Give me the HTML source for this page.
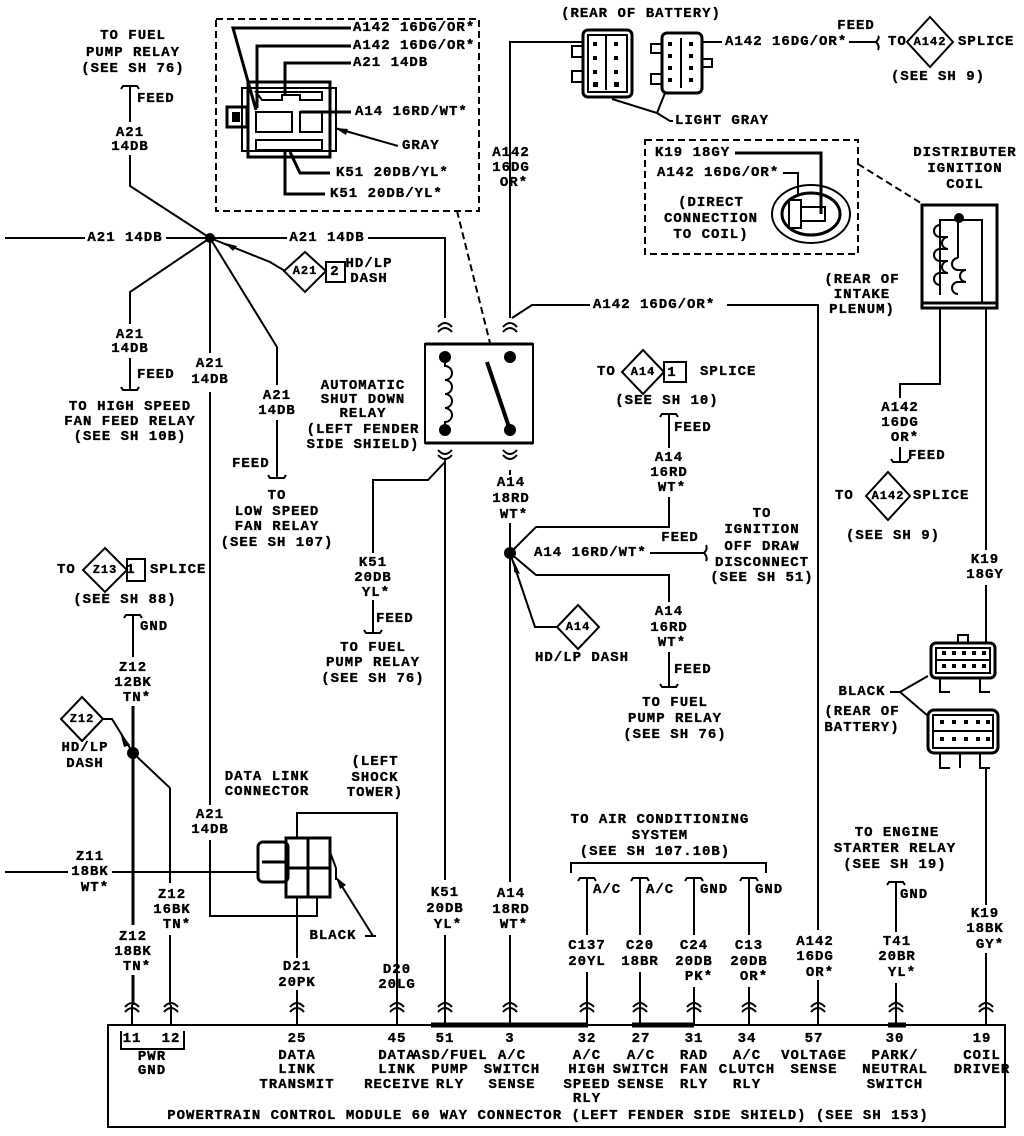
<!DOCTYPE html>
<html><head><meta charset="utf-8"><style>
html,body{margin:0;padding:0;background:#fff;}
svg{display:block;}
text{font-family:"Liberation Mono",monospace;font-weight:bold;font-size:14px;letter-spacing:1px;fill:#000;stroke:#000;stroke-width:0.35px;dominant-baseline:central;}
.c text{text-anchor:middle;}
.l text{text-anchor:start;}
.w{stroke:#000;stroke-width:2;fill:none;}
.t{stroke:#000;stroke-width:3;fill:none;}
.d{stroke:#000;stroke-width:2;fill:none;stroke-dasharray:7,4;}
</style></head><body>
<svg width="1024" height="1136" viewBox="0 0 1024 1136" xmlns="http://www.w3.org/2000/svg">
<defs>
<g id="cap"><path d="M-7,3 Q0,-5 7,3 M-7,8 Q0,0 7,8" stroke="#000" stroke-width="2" fill="none"/></g>
<g id="feed"><path d="M-9,3 L-7,0 L7,0 L9,3" stroke="#000" stroke-width="2" fill="none"/></g>
</defs>

<g class="c">
<text x="133" y="36">TO FUEL</text><text x="133" y="53">PUMP RELAY</text><text x="133" y="69">(SEE SH 76)</text>
<text x="130" y="133">A21</text><text x="130" y="147">14DB</text>
<text x="125" y="238">A21 14DB</text><text x="327" y="238">A21 14DB</text>
<text x="130" y="335">A21</text><text x="130" y="349">14DB</text>
<text x="130" y="407">TO HIGH SPEED</text><text x="130" y="422">FAN FEED RELAY</text><text x="130" y="437">(SEE SH 10B)</text>
<text x="210" y="364">A21</text><text x="210" y="380">14DB</text>
<text x="277" y="396">A21</text><text x="277" y="411">14DB</text>
<text x="277" y="496">TO</text><text x="277" y="512">LOW SPEED</text><text x="277" y="527">FAN RELAY</text><text x="277" y="543">(SEE SH 107)</text>
<text x="369" y="264">HD/LP</text><text x="369" y="279">DASH</text>
<text x="305" y="271" style="font-size:12px">A21</text>
<text x="335" y="272">2</text>
<text x="363" y="386">AUTOMATIC</text><text x="363" y="400">SHUT DOWN</text><text x="363" y="414">RELAY</text><text x="363" y="430">(LEFT FENDER</text><text x="363" y="445">SIDE SHIELD)</text>
</g>
<g class="l"><text x="137" y="99">FEED</text><text x="137" y="375">FEED</text><text x="232" y="464">FEED</text></g>
<use href="#feed" x="130" y="86"/><use href="#feed" x="130" y="390" transform="rotate(180 130 390)"/><use href="#feed" x="277" y="478" transform="rotate(180 277 478)"/>
<path class="w" d="M130,86 V122 M130,155 V186 L210,238 M5,238 H85 M166,238 H287 M368,238 H445 V318"/>
<path class="w" d="M210,238 L130,292 V324 M130,358 V390 M210,238 V353 M210,392 V805 M210,840 V916 H317 V897 M210,238 L277,347 V385 M277,420 V478"/>
<path class="w" d="M210,238 L270,262 L285,271"/>
<polygon points="225,243 237,246 233,251" fill="#000"/>
<circle cx="210" cy="238" r="5" fill="#000"/>
<polygon class="w" points="305,252 326,271 305,292 284,271"/>
<rect class="w" x="326" y="262" width="19" height="20"/>

<rect class="d" x="216" y="19" width="263" height="192"/>
<path class="d" d="M457,211 L490,343"/>
<g class="l"><text x="353" y="28">A142 16DG/OR*</text><text x="353" y="46">A142 16DG/OR*</text><text x="353" y="63">A21 14DB</text><text x="355" y="112">A14 16RD/WT*</text><text x="402" y="146">GRAY</text><text x="336" y="173">K51 20DB/YL*</text><text x="330" y="194">K51 20DB/YL*</text></g>
<path class="t" d="M351,28 H233 L256,110 M351,46 H257 V108 M351,63 H285 V95 M351,112 H300 M330,173 H300 L290,152 M325,194 H285 V150"/>
<path class="w" d="M335,128 L398,146"/><polygon points="335,128 348,129 346,135" fill="#000"/>
<rect class="t" x="248" y="82" width="82" height="75"/>
<rect class="w" x="242" y="88" width="94" height="63"/>
<rect class="t" x="227" y="107" width="20" height="20"/><rect x="232" y="112" width="8" height="10" fill="#000"/>
<path class="w" d="M256,92 H322 V100 H300 V95 H282 V100 H262 Z M256,112 H292 V132 H256 Z M300,112 H322 V132 H300 Z M256,140 H322 V150 H256 Z"/>

<rect class="w" x="425" y="344" width="108" height="99"/>
<path class="t" d="M425,344 H533 M425,443 H533"/>
<use href="#cap" x="445" y="324"/><use href="#cap" x="510" y="324"/>
<use href="#cap" x="445" y="452" transform="rotate(180 445 455)"/><use href="#cap" x="510" y="452" transform="rotate(180 510 455)"/>
<circle cx="445" cy="357" r="6" fill="#000"/><circle cx="510" cy="357" r="6" fill="#000"/>
<circle cx="445" cy="430" r="6" fill="#000"/><circle cx="510" cy="430" r="6" fill="#000"/>
<path class="w" d="M445,357 V366 a7,7 0 0 1 0,14 a7,7 0 0 1 0,14 a7,7 0 0 1 0,14 a7,7 0 0 1 0,14 V430"/>
<path d="M510,430 L487,362" stroke="#000" stroke-width="4"/>
<path class="w" d="M510,318 V160 M510,190 V42 H584 M512,318 L532,305 H590 M727,305 H818 V930 M818,980 V1005"/>
<g class="c"><text x="511" y="153">A142</text><text x="511" y="168">16DG</text><text x="514" y="183">OR*</text></g>
<g class="l"><text x="593" y="305">A142 16DG/OR*</text></g>
<path class="w" d="M445,460 V880 M445,935 V1005 M445,462 L428,480 H373 V553 M373,600 V632"/>
<g class="c"><text x="373" y="563">K51</text><text x="373" y="578">20DB</text><text x="376" y="593">YL*</text>
<text x="373" y="648">TO FUEL</text><text x="373" y="663">PUMP RELAY</text><text x="373" y="679">(SEE SH 76)</text>
<text x="445" y="893">K51</text><text x="445" y="909">20DB</text><text x="448" y="925">YL*</text></g>
<g class="l"><text x="376" y="619">FEED</text></g>
<use href="#feed" x="373" y="633" transform="rotate(180 373 633)"/>

<text x="641" y="14" style="text-anchor:middle">(REAR OF BATTERY)</text>
<rect class="t" x="583" y="30" width="49" height="67" rx="5"/>
<rect class="w" x="588" y="35" width="39" height="57"/>
<path class="w" d="M583,46 H572 V57 H583 M583,71 H572 V82 H583 M606,36 V90"/>
<rect class="t" x="662" y="33" width="40" height="60" rx="5"/>
<path class="w" d="M662,44 H651 V53 H662 M662,74 H651 V84 H662 M702,59 H712 V67 H702 M681,38 V88"/>
<g fill="#000"><rect x="593" y="42" width="4" height="4"/><rect x="593" y="56" width="4" height="4"/><rect x="593" y="70" width="4" height="4"/><rect x="593" y="82" width="5" height="5"/><rect x="614" y="42" width="4" height="4"/><rect x="614" y="56" width="4" height="4"/><rect x="614" y="70" width="4" height="4"/><rect x="614" y="82" width="5" height="5"/>
<rect x="668" y="42" width="4" height="4"/><rect x="668" y="54" width="4" height="4"/><rect x="668" y="66" width="4" height="4"/><rect x="668" y="78" width="4" height="4"/><rect x="689" y="42" width="4" height="4"/><rect x="689" y="54" width="4" height="4"/><rect x="689" y="66" width="4" height="4"/><rect x="689" y="78" width="4" height="4"/></g>
<path class="w" d="M702,42 H722 M665,93 L657,113 L612,99 M657,113 L670,121 H673"/>
<g class="l"><text x="725" y="42">A142 16DG/OR*</text><text x="675" y="121">LIGHT GRAY</text><text x="888" y="42">TO</text><text x="958" y="42">SPLICE</text></g>
<path class="w" d="M849,42 H876 M876,42 q4,-4 2,-6 M876,42 q4,4 2,8"/>
<text x="856" y="26" style="text-anchor:middle">FEED</text>
<polygon class="w" points="930,17 953,42 930,67 907,42"/>
<text x="930" y="42" style="text-anchor:middle;font-size:12px">A142</text>
<text x="938" y="77" style="text-anchor:middle">(SEE SH 9)</text>

<rect class="d" x="645" y="140" width="213" height="114"/>
<path class="d" d="M858,164 L924,205"/>
<g class="l"><text x="655" y="153">K19 18GY</text><text x="657" y="173">A142 16DG/OR*</text></g>
<g class="c"><text x="711" y="203">(DIRECT</text><text x="711" y="219">CONNECTION</text><text x="711" y="235">TO COIL)</text></g>
<path class="t" d="M735,153 H821 V214"/><path class="w" d="M783,173 H798 V196"/>
<ellipse class="w" cx="811" cy="214" rx="39" ry="29"/><ellipse class="t" cx="811" cy="214" rx="29" ry="21"/>
<rect class="w" x="789" y="200" width="12" height="28"/><rect class="w" x="801" y="207" width="24" height="14"/>
<g class="c"><text x="965" y="153">DISTRIBUTER</text><text x="965" y="169">IGNITION</text><text x="965" y="185">COIL</text>
<text x="862" y="280">(REAR OF</text><text x="862" y="295">INTAKE</text><text x="862" y="310">PLENUM)</text></g>
<rect class="t" x="922" y="205" width="75" height="103"/><path class="t" d="M922,303 H997"/>
<path class="w" d="M940,295 V220 H982 V303 M958,218 V258"/>
<circle cx="959" cy="218" r="5" fill="#000"/>
<path class="w" d="M940,225 a6,6 0 0 0 0,12 h8 a6,6 0 0 0 0,12 h-8 a6,6 0 0 0 0,12 h8 a6,6 0 0 0 0,12 h-8 a6,6 0 0 0 0,12"/>
<path class="w" d="M958,258 a6,6 0 0 0 0,12 h8 a6,6 0 0 0 0,12 h-8 a6,6 0 0 0 0,12"/>
<path class="w" d="M940,308 V384 H900 V398 M900,447 V462 M986,308 V550 M986,585 V643 M986,768 V905 M986,953 V1005"/>
<g class="c"><text x="900" y="408">A142</text><text x="900" y="423">16DG</text><text x="905" y="438">OR*</text>
<text x="888" y="496" style="font-size:12px">A142</text>
<text x="893" y="536">(SEE SH 9)</text>
<text x="985" y="560">K19</text><text x="985" y="575">18GY</text>
<text x="985" y="914">K19</text><text x="985" y="929">18BK</text><text x="990" y="945">GY*</text>
<text x="862" y="692">BLACK</text><text x="862" y="712">(REAR OF</text><text x="862" y="728">BATTERY)</text></g>
<g class="l"><text x="908" y="456">FEED</text><text x="835" y="496">TO</text><text x="913" y="496">SPLICE</text></g>
<use href="#feed" x="900" y="462" transform="rotate(180 900 462)"/>
<polygon class="w" points="888,472 910,496 888,520 866,496"/>
<rect class="t" x="931" y="643" width="64" height="35" rx="5"/><rect class="w" x="936" y="648" width="54" height="25"/>
<path class="w" d="M936,660 H990 M958,643 V635 H968 V643 M940,678 V692 H950 M980,678 V692 H990"/>
<rect class="t" x="928" y="710" width="70" height="43" rx="6"/><rect class="w" x="933" y="715" width="60" height="33"/>
<path class="w" d="M933,731 H993 M940,753 V768 H950 M960,753 V768 M980,753 V768 H990"/>
<g fill="#000"><rect x="942" y="651" width="4" height="4"/><rect x="952" y="651" width="4" height="4"/><rect x="962" y="651" width="4" height="4"/><rect x="972" y="651" width="4" height="4"/><rect x="982" y="651" width="4" height="4"/><rect x="942" y="664" width="4" height="4"/><rect x="952" y="664" width="4" height="4"/><rect x="962" y="664" width="4" height="4"/><rect x="972" y="664" width="4" height="4"/><rect x="982" y="664" width="4" height="4"/>
<rect x="940" y="720" width="4" height="4"/><rect x="952" y="720" width="4" height="4"/><rect x="964" y="720" width="4" height="4"/><rect x="976" y="720" width="4" height="4"/><rect x="986" y="720" width="4" height="4"/><rect x="940" y="737" width="4" height="4"/><rect x="952" y="737" width="4" height="4"/><rect x="964" y="737" width="4" height="4"/><rect x="976" y="737" width="4" height="4"/><rect x="986" y="737" width="4" height="4"/></g>
<path class="w" d="M890,692 H900 L928,676 M900,692 L928,716"/>

<g class="c"><text x="511" y="483">A14</text><text x="511" y="499">18RD</text><text x="514" y="515">WT*</text>
<text x="643" y="372" style="font-size:12px">A14</text><text x="672" y="373">1</text>
<text x="667" y="401">(SEE SH 10)</text>
<text x="669" y="458">A14</text><text x="669" y="473">16RD</text><text x="672" y="488">WT*</text>
<text x="762" y="514">TO</text><text x="762" y="530">IGNITION</text><text x="762" y="547">OFF DRAW</text><text x="762" y="563">DISCONNECT</text><text x="762" y="578">(SEE SH 51)</text>
<text x="680" y="538">FEED</text>
<text x="578" y="627" style="font-size:12px">A14</text>
<text x="582" y="658">HD/LP DASH</text>
<text x="669" y="612">A14</text><text x="669" y="628">16RD</text><text x="672" y="643">WT*</text>
<text x="675" y="703">TO FUEL</text><text x="675" y="719">PUMP RELAY</text><text x="675" y="735">(SEE SH 76)</text>
<text x="511" y="894">A14</text><text x="511" y="910">18RD</text><text x="514" y="925">WT*</text></g>
<g class="l"><text x="597" y="372">TO</text><text x="700" y="372">SPLICE</text><text x="674" y="428">FEED</text><text x="534" y="553">A14 16RD/WT*</text><text x="674" y="670">FEED</text></g>
<polygon class="w" points="643,350 664,372 643,394 622,372"/><rect class="w" x="664" y="362" width="22" height="20"/>
<use href="#feed" x="669" y="414"/>
<path class="w" d="M669,414 V448 M669,497 V527 H536 L510,553 M510,470 V475 M510,523 V882 M510,935 V1005 M510,553 L536,575 H669 V602 M669,652 V687 M510,553 L535,627 L557,627 M650,553 H704 M704,553 q4,-4 2,-8 M704,553 q4,4 2,8"/>
<use href="#feed" x="669" y="687" transform="rotate(180 669 687)"/>
<circle cx="510" cy="553" r="6" fill="#000"/>
<polygon class="w" points="578,605 599,627 578,649 557,627"/>
<polygon points="514,561 520,574 514,572" fill="#000"/>

<g class="c"><text x="660" y="820">TO AIR CONDITIONING</text><text x="660" y="836">SYSTEM</text><text x="655" y="852">(SEE SH 107.10B)</text>
<text x="587" y="946">C137</text><text x="587" y="962">20YL</text>
<text x="640" y="946">C20</text><text x="640" y="962">18BR</text>
<text x="694" y="946">C24</text><text x="694" y="962">20DB</text><text x="699" y="977">PK*</text>
<text x="749" y="946">C13</text><text x="749" y="962">20DB</text><text x="754" y="977">OR*</text>
<text x="815" y="942">A142</text><text x="815" y="957">16DG</text><text x="820" y="973">OR*</text>
<text x="897" y="833">TO ENGINE</text><text x="895" y="849">STARTER RELAY</text><text x="895" y="865">(SEE SH 19)</text>
<text x="897" y="942">T41</text><text x="897" y="957">20BR</text><text x="902" y="973">YL*</text></g>
<g class="l"><text x="593" y="890">A/C</text><text x="646" y="890">A/C</text><text x="700" y="890">GND</text><text x="755" y="890">GND</text><text x="900" y="895">GND</text></g>
<path class="w" d="M571,873 V863 H766 V873"/>
<use href="#feed" x="587" y="878"/><use href="#feed" x="640" y="878"/><use href="#feed" x="694" y="878"/><use href="#feed" x="749" y="878"/><use href="#feed" x="896" y="882"/>
<path class="w" d="M587,878 V935 M587,972 V1005 M640,878 V935 M640,972 V1005 M694,878 V935 M694,987 V1005 M749,878 V935 M749,987 V1005 M896,882 V932 M896,983 V1005"/>

<g class="c"><text x="105" y="570" style="font-size:12px">Z13</text><text x="131" y="570">1</text>
<text x="125" y="600">(SEE SH 88)</text>
<text x="133" y="668">Z12</text><text x="133" y="683">12BK</text><text x="137" y="698">TN*</text>
<text x="82" y="719" style="font-size:12px">Z12</text>
<text x="85" y="748">HD/LP</text><text x="85" y="764">DASH</text>
<text x="90" y="857">Z11</text><text x="90" y="872">18BK</text><text x="95" y="888">WT*</text>
<text x="172" y="895">Z12</text><text x="172" y="910">16BK</text><text x="177" y="925">TN*</text>
<text x="133" y="937">Z12</text><text x="133" y="952">18BK</text><text x="137" y="967">TN*</text>
<text x="267" y="777">DATA LINK</text><text x="267" y="792">CONNECTOR</text>
<text x="375" y="762">(LEFT</text><text x="375" y="778">SHOCK</text><text x="375" y="793">TOWER)</text>
<text x="210" y="815">A21</text><text x="210" y="830">14DB</text>
<text x="297" y="967">D21</text><text x="297" y="983">20PK</text>
<text x="397" y="970">D20</text><text x="397" y="985">20LG</text>
<text x="333" y="936">BLACK</text></g>
<g class="l"><text x="57" y="570">TO</text><text x="150" y="570">SPLICE</text><text x="140" y="627">GND</text></g>
<polygon class="w" points="105,548 127,570 105,592 83,570"/><rect class="w" x="127" y="559" width="18" height="22"/>
<use href="#feed" x="133" y="615"/>
<polygon class="w" points="82,697 103,719 82,741 61,719"/>
<path class="w" d="M133,615 V657 M170,788 V883 M170,935 V1005 M103,719 H112 L133,753 L170,788 M5,872 H68 M112,872 H258"/>
<path class="t" d="M133,706 V925 M133,975 V1005"/>
<polygon points="120,732 130,745 124,747" fill="#000"/>
<circle cx="133" cy="753" r="6" fill="#000"/>
<rect class="t" x="286" y="838" width="44" height="59"/>
<rect class="t" x="258" y="842" width="30" height="40" rx="5"/>
<path class="t" d="M262,862 H286 M308,838 V897 M286,868 H330"/>
<path class="w" d="M297,838 V813 H397 V1005 M297,897 V958 M297,990 V1005 M330,852 L336,868 V880"/>
<path class="w" d="M373,936 L338,880"/><polygon points="336,877 346,885 340,889" fill="#000"/>
<path class="w" d="M365,936 H376"/>

<g><use href="#cap" x="132" y="1004"/><use href="#cap" x="171" y="1004"/><use href="#cap" x="297" y="1004"/><use href="#cap" x="397" y="1004"/><use href="#cap" x="445" y="1004"/><use href="#cap" x="510" y="1004"/><use href="#cap" x="587" y="1004"/><use href="#cap" x="640" y="1004"/><use href="#cap" x="694" y="1004"/><use href="#cap" x="749" y="1004"/><use href="#cap" x="818" y="1004"/><use href="#cap" x="896" y="1004"/><use href="#cap" x="986" y="1004"/></g>
<path class="w" d="M132,1005 V1025 M171,1005 V1025 M297,1005 V1025 M397,1005 V1025 M445,1005 V1025 M510,1005 V1025 M587,1005 V1025 M640,1005 V1025 M694,1005 V1025 M749,1005 V1025 M818,1005 V1025 M896,1005 V1025 M986,1005 V1025"/>
<rect class="w" x="108" y="1025" width="897" height="102"/>
<path d="M431,1025 H588 M632,1025 H694 M888,1025 H906" stroke="#000" stroke-width="5"/>
<path class="w" d="M121,1031 V1049 H184 V1031"/>
<g class="c">
<text x="132" y="1039">11</text><text x="171" y="1039">12</text><text x="152" y="1057">PWR</text><text x="152" y="1071">GND</text>
<text x="297" y="1039">25</text><text x="297" y="1056">DATA</text><text x="297" y="1070">LINK</text><text x="297" y="1085">TRANSMIT</text>
<text x="397" y="1039">45</text><text x="397" y="1056">DATA</text><text x="397" y="1070">LINK</text><text x="397" y="1085">RECEIVE</text>
<text x="445" y="1039">51</text><text x="450" y="1056">ASD/FUEL</text><text x="450" y="1070">PUMP</text><text x="450" y="1085">RLY</text>
<text x="510" y="1039">3</text><text x="512" y="1056">A/C</text><text x="512" y="1070">SWITCH</text><text x="512" y="1085">SENSE</text>
<text x="587" y="1039">32</text><text x="587" y="1056">A/C</text><text x="587" y="1070">HIGH</text><text x="587" y="1085">SPEED</text><text x="587" y="1099">RLY</text>
<text x="641" y="1039">27</text><text x="641" y="1056">A/C</text><text x="641" y="1070">SWITCH</text><text x="641" y="1085">SENSE</text>
<text x="694" y="1039">31</text><text x="694" y="1056">RAD</text><text x="694" y="1070">FAN</text><text x="694" y="1085">RLY</text>
<text x="747" y="1039">34</text><text x="747" y="1056">A/C</text><text x="747" y="1070">CLUTCH</text><text x="747" y="1085">RLY</text>
<text x="814" y="1039">57</text><text x="814" y="1056">VOLTAGE</text><text x="814" y="1070">SENSE</text>
<text x="895" y="1039">30</text><text x="895" y="1056">PARK/</text><text x="895" y="1070">NEUTRAL</text><text x="895" y="1085">SWITCH</text>
<text x="982" y="1039">19</text><text x="982" y="1056">COIL</text><text x="982" y="1070">DRIVER</text>
<text x="548" y="1116">POWERTRAIN CONTROL MODULE 60 WAY CONNECTOR (LEFT FENDER SIDE SHIELD) (SEE SH 153)</text>
</g>
</svg>
</body></html>
